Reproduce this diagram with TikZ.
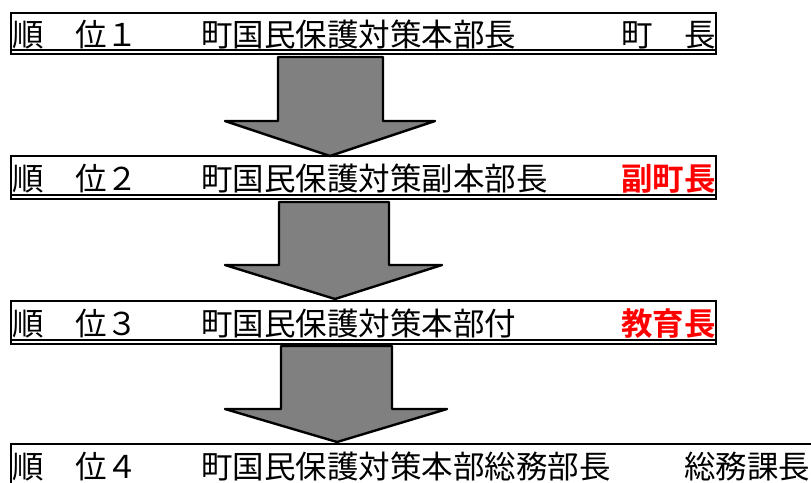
\documentclass[tikz,border=0pt]{standalone}
\usepackage{fontspec}
\newfontfamily\jp[BoldFont={Noto Sans CJK JP Bold}]{Noto Sans CJK JP}
\definecolor{arrowgray}{RGB}{128,128,128}
\definecolor{pred}{RGB}{255,0,0}
\tikzset{
  boxline/.style={draw=black, line width=1.6pt},
  downarrow/.style={draw=black, fill=arrowgray, line width=2.4pt, line join=round},
  lefttext/.style={inner sep=0pt, anchor=base west, font=\jp\fontsize{31.5}{31.5}\selectfont},
  righttext/.style={inner sep=0pt, anchor=base east, font=\jp\fontsize{31.5}{31.5}\selectfont},
  redtext/.style={righttext, text=pred, font=\jp\bfseries\fontsize{31.5}{31.5}\selectfont}
}
\begin{document}
\begin{tikzpicture}[x=1pt, y=-1pt]
\useasboundingbox (0,0) rectangle (811,482);
% boxes with double bottom line
\draw[boxline] (11,13) rectangle (716,54);
\draw[boxline] (11,50) -- (716,50);
\draw[boxline] (11,156) rectangle (716,199);
\draw[boxline] (11,195) -- (716,195);
\draw[boxline] (11,301) rectangle (716,344);
\draw[boxline] (11,340) -- (716,340);
\draw[boxline] (11,444) rectangle (840,520);
% arrows
\draw[downarrow] (278,57) -- (383,57) -- (383,121) -- (435,121) -- (330,156) -- (225,121) -- (278,121) -- cycle;
\draw[downarrow] (279,202) -- (389,202) -- (389,265) -- (442,265) -- (335,299) -- (225,265) -- (279,265) -- cycle;
\draw[downarrow] (281,346) -- (392,346) -- (392,409) -- (447,409) -- (337,442) -- (225,409) -- (281,409) -- cycle;
% texts
\node[lefttext] (t1) at (12,46) {順　位１　　町国民保護対策本部長};
\node[righttext] (r1) at (716,46) {町　長};
\node[lefttext] (t2) at (12,190) {順　位２　　町国民保護対策副本部長};
\node[redtext] (r2) at (716,190) {副町長};
\node[lefttext] (t3) at (12,335) {順　位３　　町国民保護対策本部付};
\node[redtext] (r3) at (716,335) {教育長};
\node[lefttext] (t4) at (12,478) {順　位４　　町国民保護対策本部総務部長};
\node[lefttext] (r4) at (684,478) {総務課長};
\end{tikzpicture}
\end{document}
